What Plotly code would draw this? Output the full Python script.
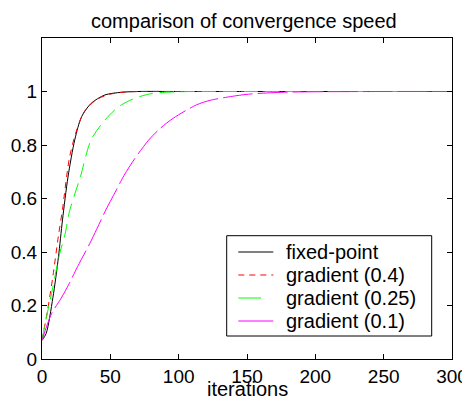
import plotly.graph_objects as go

# ---- data ----
fixed_x = [0, 3, 8, 12, 15, 19, 24, 29, 36, 46, 58, 70, 100, 150, 200, 250, 300]
fixed_y = [0.07, 0.095, 0.23, 0.38, 0.52, 0.68, 0.82, 0.906, 0.956, 0.987, 0.997, 1.0, 1.0, 1.0, 1.0, 1.0, 1.0]

g04_x = [0, 4, 8, 12, 15, 20, 25, 31, 40, 50, 60, 75, 100, 150, 200, 250, 300]
g04_y = [0.07, 0.18, 0.31, 0.46, 0.56, 0.75, 0.85, 0.925, 0.97, 0.99, 0.998, 1.0, 1.0, 1.0, 1.0, 1.0, 1.0]

g025_x = [0, 3, 7, 13, 17, 20, 28, 36, 46, 56, 68, 81, 100, 150, 200, 250, 300]
g025_y = [0.07, 0.15, 0.245, 0.395, 0.47, 0.55, 0.68, 0.82, 0.893, 0.943, 0.975, 0.993, 0.999, 1.0, 1.0, 1.0, 1.0]

g01_x = [0, 7, 14, 20, 26, 35, 40, 46, 54, 60, 68, 78, 86, 96, 113, 123, 138, 151, 175, 200, 250, 300]
g01_y = [0.07, 0.17, 0.227, 0.283, 0.345, 0.432, 0.485, 0.55, 0.628, 0.686, 0.75, 0.818, 0.86, 0.9, 0.95, 0.967, 0.981, 0.99, 0.997, 0.999, 1.0, 1.0]

series_names = ["fixed-point", "gradient (0.4)", "gradient (0.25)", "gradient (0.1)"]
x_ticks = [0, 50, 100, 150, 200, 250, 300]
y_ticks = [0, 0.2, 0.4, 0.6, 0.8, 1]
y_tick_labels = ["0", "0.2", "0.4", "0.6", "0.8", "1"]
title_text = "comparison of convergence speed"
x_title = "iterations"

FONT = "Liberation Sans, Arial, sans-serif"
OFF = 8  # page body margin of the browser
VW, VH = 470, 401
W, H = VW - OFF, VH - OFF
# plot area in viewport pixels: x 42..452, y 38..359
L, T = 42 - OFF, 38 - OFF
R = W - (452 - OFF)
B = H - (359 - OFF)
PW, PH = W - L - R, H - T - B


def px(X):
    return (X - OFF - L) / PW


def py(Y):
    return (H - B - (Y - OFF)) / PH


fig = go.Figure()
styles = [
    dict(color="#000000", width=1, dash="solid"),
    dict(color="#ff0000", width=1, dash="6px,5px"),
    dict(color="#00ff00", width=1, dash="14px,7px"),
    dict(color="#ff00ff", width=1, dash="30px,5px"),
]
for (xs, ys), name, st in zip(
    [(fixed_x, fixed_y), (g04_x, g04_y), (g025_x, g025_y), (g01_x, g01_y)],
    series_names, styles,
):
    fig.add_trace(go.Scatter(
        x=xs, y=ys, mode="lines", name=name, showlegend=False,
        line=dict(shape="spline", smoothing=0.8, **st),
    ))

axis_common = dict(
    showgrid=False, zeroline=False, showline=True, linecolor="black", linewidth=1,
    mirror="ticks", ticks="inside", ticklen=5, tickcolor="black", automargin=False,
    tickfont=dict(family=FONT, size=19, color="black"),
)

shapes = []
annotations = []
# legend box (drawn by hand to match the reference spacing)
shapes.append(dict(type="rect", xref="paper", yref="paper",
                   x0=px(226.7), x1=px(431.7), y0=py(336), y1=py(235.7),
                   line=dict(color="black", width=1), fillcolor="white", layer="above"))
row_y = [252, 275, 298, 321]
line_ends = [273.3, 273.3, 261, 273.3]
for name, st, ry, le in zip(series_names, styles, row_y, line_ends):
    dash = "solid" if st["color"] in ("#00ff00", "#ff00ff") else st["dash"]
    shapes.append(dict(type="line", xref="paper", yref="paper",
                       x0=px(238.3), x1=px(le), y0=py(ry), y1=py(ry),
                       line=dict(color=st["color"], width=1, dash=dash), layer="above"))
    annotations.append(dict(text=name, xref="paper", yref="paper",
                            x=px(284), y=py(ry), xanchor="left", yanchor="middle",
                            showarrow=False,
                            font=dict(family=FONT, size=20, color="black")))
annotations.append(dict(text=x_title, xref="paper", yref="paper",
                        x=px(247), y=py(401), xanchor="center", yanchor="bottom",
                        showarrow=False, borderpad=0,
                        font=dict(family=FONT, size=20, color="black")))
annotations.append(dict(text=title_text, xref="paper", yref="paper",
                        x=px(244), y=py(21), xanchor="center", yanchor="middle",
                        showarrow=False, font=dict(family=FONT, size=20, color="black")))

fig.update_layout(
    width=W, height=H,
    margin=dict(l=L, r=R, t=T, b=B),
    paper_bgcolor="white", plot_bgcolor="white",
    xaxis=dict(range=[0, 300], tickvals=x_ticks, **axis_common),
    yaxis=dict(range=[0, 1.2], tickvals=y_ticks, ticktext=y_tick_labels, **axis_common),
    showlegend=False,
    shapes=shapes,
    annotations=annotations,
)

fig.write_html("out.html")
